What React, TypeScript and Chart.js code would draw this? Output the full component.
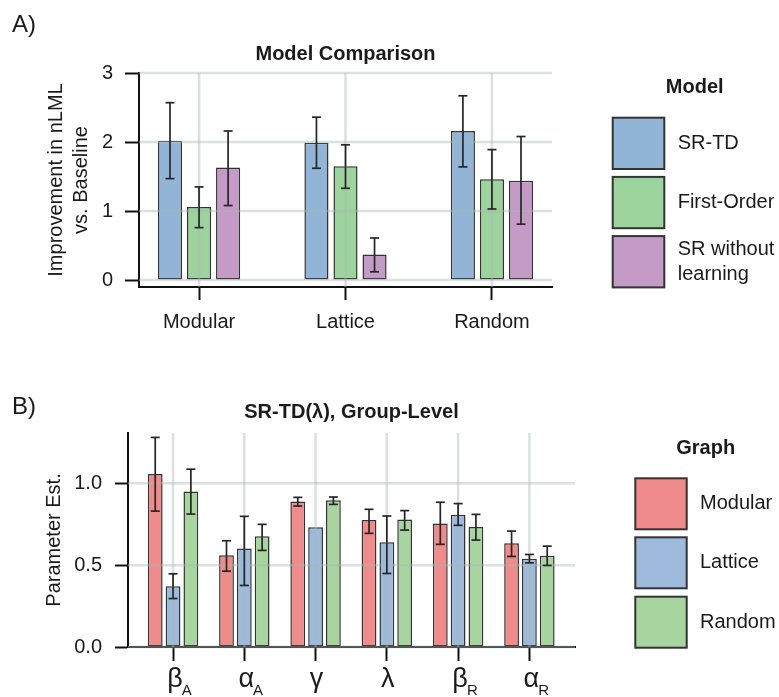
import React, { useEffect, useRef } from 'react';
import { Chart, registerables } from 'chart.js';

Chart.register(...registerables);

// ---------- Panel A data ----------
const modelCategories = ['Modular', 'Lattice', 'Random'];
const modelNames = ['SR-TD', 'First-Order', 'SR without learning'];
const modelLegendLines = [['SR-TD'], ['First-Order'], ['SR without', 'learning']];
const modelColors = ['#92b4d7', '#9dd39c', '#c49ac7'];
const srtdMean = [2.02, 1.99, 2.16];
const srtdLow = [1.47, 1.62, 1.64];
const srtdHigh = [2.57, 2.36, 2.67];
const firstOrderMean = [1.06, 1.65, 1.46];
const firstOrderLow = [0.76, 1.33, 1.03];
const firstOrderHigh = [1.35, 1.96, 1.89];
const srNoLearnMean = [1.63, 0.37, 1.44];
const srNoLearnLow = [1.08, 0.12, 0.81];
const srNoLearnHigh = [2.16, 0.61, 2.08];
const modelYTicks = [0, 1, 2, 3];

// ---------- Panel B data ----------
const paramSymbols = ['β', 'α', 'γ', 'λ', 'β', 'α'];
const paramSubscripts = ['A', 'A', '', '', 'R', 'R'];
const graphNames = ['Modular', 'Lattice', 'Random'];
const graphColors = ['#f08b8b', '#9dbadc', '#a8d4a0'];
const modularMean = [1.057, 0.561, 0.888, 0.776, 0.755, 0.633];
const modularLow = [0.83, 0.463, 0.861, 0.694, 0.627, 0.553];
const modularHigh = [1.28, 0.649, 0.914, 0.841, 0.884, 0.708];
const latticeMean = [0.371, 0.602, 0.731, 0.639, 0.808, 0.539];
const latticeLow = [0.296, 0.376, 0.731, 0.449, 0.743, 0.514];
const latticeHigh = [0.447, 0.798, 0.731, 0.8, 0.876, 0.565];
const randomMean = [0.949, 0.676, 0.896, 0.778, 0.733, 0.557];
const randomLow = [0.812, 0.59, 0.871, 0.714, 0.653, 0.498];
const randomHigh = [1.086, 0.749, 0.916, 0.833, 0.81, 0.616];
const paramYTicks = [0, 0.5, 1.0];

// ---------- style ----------
const FONT = '"Liberation Sans", Arial, Helvetica, sans-serif';
const TEXT = '#1a1a1a';
const AXIS = '#111111';
const GRID = 'rgba(168,184,178,0.42)';
const EDGE = '#333333';
const ERR = '#262626';

function txt(ctx: CanvasRenderingContext2D, s: string, x: number, y: number, font: string,
  align: CanvasTextAlign = 'left', baseline: CanvasTextBaseline = 'alphabetic', rotate = false) {
  ctx.save();
  ctx.translate(x, y);
  if (rotate) ctx.rotate(-Math.PI / 2);
  ctx.font = font;
  ctx.fillStyle = TEXT;
  ctx.textAlign = align;
  ctx.textBaseline = baseline;
  ctx.fillText(s, 0, 0);
  ctx.restore();
}

function line(ctx: CanvasRenderingContext2D, x1: number, y1: number, x2: number, y2: number) {
  ctx.beginPath();
  ctx.moveTo(x1, y1);
  ctx.lineTo(x2, y2);
  ctx.stroke();
}

function overlay(id: string, gridY: number[], nCat: number, lows: number[][], highs: number[][], capHalf: number) {
  return {
    id,
    afterDatasetsDraw(chart: any) {
      const ctx: CanvasRenderingContext2D = chart.ctx;
      const { left, right, top, bottom } = chart.chartArea;
      const xs = chart.scales.x;
      const ys = chart.scales.y;
      ctx.save();
      ctx.strokeStyle = GRID;
      ctx.lineWidth = 2.5;
      gridY.forEach((v) => {
        const y = ys.getPixelForValue(v);
        line(ctx, left, y, right, y);
      });
      for (let i = 0; i < nCat; i++) {
        const x = xs.getPixelForValue(i);
        line(ctx, x, top, x, bottom);
      }
      ctx.strokeStyle = ERR;
      ctx.lineWidth = 1.7;
      chart.data.datasets.forEach((_: any, di: number) => {
        const meta = chart.getDatasetMeta(di);
        meta.data.forEach((el: any, j: number) => {
          const lo = lows[di][j];
          const hi = highs[di][j];
          if (hi - lo < 1e-6) return;
          const x = el.x;
          const y1 = ys.getPixelForValue(lo);
          const y2 = ys.getPixelForValue(hi);
          line(ctx, x, y1, x, y2);
          line(ctx, x - capHalf, y1, x + capHalf, y1);
          line(ctx, x - capHalf, y2, x + capHalf, y2);
        });
      });
      ctx.restore();
    },
  };
}

function drawLegend(ctx: CanvasRenderingContext2D, title: string, titleX: number, titleY: number,
  boxX: number, boxW: number, boxTops: number[], boxH: number, colors: string[], labels: string[][], labelX: number) {
  txt(ctx, title, titleX, titleY, `bold 20px ${FONT}`, 'center');
  boxTops.forEach((t, i) => {
    ctx.save();
    ctx.fillStyle = colors[i];
    ctx.fillRect(boxX, t, boxW, boxH);
    ctx.strokeStyle = EDGE;
    ctx.lineWidth = 2;
    ctx.strokeRect(boxX, t, boxW, boxH);
    ctx.restore();
    const cy = t + boxH / 2;
    const lines = labels[i];
    const lh = 24.5;
    lines.forEach((s, k) => {
      txt(ctx, s, labelX, cy + (k - (lines.length - 1) / 2) * lh, `20px ${FONT}`, 'left', 'middle');
    });
  });
}

const tickFont = { family: FONT, size: 20 };

function makeA(canvas: HTMLCanvasElement) {
  const means = [srtdMean, firstOrderMean, srNoLearnMean];
  const lows = [srtdLow, firstOrderLow, srNoLearnLow];
  const highs = [srtdHigh, firstOrderHigh, srNoLearnHigh];
  return new Chart(canvas, {
    type: 'bar',
    data: {
      datasets: modelNames.map((name, di) => ({
        label: name,
        data: modelCategories.map((_, i) => ({ x: i, y: means[di][i] })),
        backgroundColor: modelColors[di],
        borderColor: EDGE,
        borderWidth: 1.5,
        borderSkipped: false,
        categoryPercentage: 0.595,
        barPercentage: 0.83,
      })),
    },
    options: {
      animation: false,
      responsive: false,
      events: [],
      layout: { padding: { left: 0, top: 73, right: 227, bottom: 0 } },
      plugins: { legend: { display: false }, title: { display: false }, tooltip: { enabled: false } },
      scales: {
        x: {
          type: 'linear', min: -0.41, max: 2.41, offset: false,
          afterBuildTicks: (s: any) => { s.ticks = modelCategories.map((_, i) => ({ value: i })); },
          afterFit: (s: any) => { s.height = 73; },
          ticks: {
            callback: (v: any) => modelCategories[v] ?? '',
            font: tickFont, color: TEXT, padding: 10, autoSkip: false, maxRotation: 0, minRotation: 0,
          },
          grid: { offset: false, drawOnChartArea: false, drawTicks: true, tickLength: 13, tickWidth: 2, tickColor: AXIS, color: AXIS },
          border: { display: true, color: AXIS, width: 2 },
        },
        y: {
          type: 'linear', min: -0.1, max: 3,
          afterBuildTicks: (s: any) => { s.ticks = modelYTicks.map((v) => ({ value: v })); },
          afterFit: (s: any) => { s.width = 139; },
          ticks: { callback: (v: any) => String(v), font: tickFont, color: TEXT, padding: 12 },
          grid: { drawOnChartArea: false, drawTicks: true, tickLength: 14, tickWidth: 2, tickColor: AXIS, color: AXIS },
          border: { display: true, color: AXIS, width: 2 },
        },
      },
    } as any,
    plugins: [
      overlay('errA', modelYTicks, modelCategories.length, lows, highs, 4.5),
      {
        id: 'textA',
        afterDraw(chart: any) {
          const ctx = chart.ctx;
          const { left, right, top, bottom } = chart.chartArea;
          txt(ctx, 'A)', 12, 32, `24px ${FONT}`);
          txt(ctx, 'Model Comparison', (left + right) / 2, 59.5, `bold 20px ${FONT}`, 'center');
          const cy = (top + bottom) / 2;
          txt(ctx, 'Improvement in nLML', 62, cy, `20px ${FONT}`, 'center', 'alphabetic', true);
          txt(ctx, 'vs. Baseline', 87, cy, `20px ${FONT}`, 'center', 'alphabetic', true);
          drawLegend(ctx, 'Model', 694.7, 93, 612.7, 51.6, [117.7, 176.9, 236.1], 51.3, modelColors, modelLegendLines, 677.7);
        },
      },
    ],
  });
}

function makeB(canvas: HTMLCanvasElement) {
  const means = [modularMean, latticeMean, randomMean];
  const lows = [modularLow, latticeLow, randomLow];
  const highs = [modularHigh, latticeHigh, randomHigh];
  return new Chart(canvas, {
    type: 'bar',
    data: {
      datasets: graphNames.map((name, di) => ({
        label: name,
        data: paramSymbols.map((_, i) => ({ x: i, y: means[di][i] })),
        backgroundColor: graphColors[di],
        borderColor: EDGE,
        borderWidth: 1.5,
        borderSkipped: false,
        categoryPercentage: 0.75,
        barPercentage: 0.83,
      })),
    },
    options: {
      animation: false,
      responsive: false,
      events: [],
      layout: { padding: { left: 0, top: 73, right: 204, bottom: 0 } },
      plugins: { legend: { display: false }, title: { display: false }, tooltip: { enabled: false } },
      scales: {
        x: {
          type: 'linear', min: -0.632, max: 5.64, offset: false,
          afterBuildTicks: (s: any) => { s.ticks = paramSymbols.map((_, i) => ({ value: i })); },
          afterFit: (s: any) => { s.height = 50; },
          ticks: { callback: () => '', font: tickFont, color: TEXT, autoSkip: false, maxRotation: 0, minRotation: 0 },
          grid: { offset: false, drawOnChartArea: false, drawTicks: true, tickLength: 14, tickWidth: 2, tickColor: AXIS, color: AXIS },
          border: { display: true, color: AXIS, width: 2 },
        },
        y: {
          type: 'linear', min: 0, max: 1.307,
          afterBuildTicks: (s: any) => { s.ticks = paramYTicks.map((v) => ({ value: v })); },
          afterFit: (s: any) => { s.width = 128; },
          ticks: { callback: (v: any) => Number(v).toFixed(1), font: tickFont, color: TEXT, padding: 13 },
          grid: { drawOnChartArea: false, drawTicks: true, tickLength: 13, tickWidth: 2, tickColor: AXIS, color: AXIS },
          border: { display: true, color: AXIS, width: 2 },
        },
      },
    } as any,
    plugins: [
      overlay('errB', paramYTicks, paramSymbols.length, lows, highs, 4.5),
      {
        id: 'textB',
        afterDraw(chart: any) {
          const ctx: CanvasRenderingContext2D = chart.ctx;
          const { left, right, top, bottom } = chart.chartArea;
          const xs = chart.scales.x;
          txt(ctx, 'B)', 12, 54, `24px ${FONT}`);
          txt(ctx, 'SR-TD(λ), Group-Level', (left + right) / 2, 58, `bold 20px ${FONT}`, 'center');
          txt(ctx, 'Parameter Est.', 60, (top + bottom) / 2, `20px ${FONT}`, 'center', 'alphabetic', true);
          paramSymbols.forEach((sym, i) => {
            const x = xs.getPixelForValue(i);
            const sub = paramSubscripts[i];
            const mainFont = `27px ${FONT}`;
            ctx.save();
            ctx.font = mainFont;
            const w = ctx.measureText(sym).width;
            ctx.restore();
            const cx = x + (sub ? 2 : 1);
            txt(ctx, sym, cx - w / 2, 327, mainFont, 'left');
            if (sub) txt(ctx, sub, cx + w / 2 - 1, 335, `15px ${FONT}`, 'left');
          });
          drawLegend(ctx, 'Graph', 705.7, 94, 635.3, 51.4, [118.3, 177.3, 236.7], 51, graphColors,
            graphNames.map((n) => [n]), 700);
        },
      },
    ],
  });
}

export default function App() {
  const refA = useRef<HTMLCanvasElement>(null);
  const refB = useRef<HTMLCanvasElement>(null);
  useEffect(() => {
    const a = makeA(refA.current as HTMLCanvasElement);
    const b = makeB(refB.current as HTMLCanvasElement);
    return () => {
      a.destroy();
      b.destroy();
    };
  }, []);
  return (
    <div style={{ position: 'fixed', left: 0, top: 0, width: 779, height: 697, background: '#ffffff' }}>
      <canvas ref={refA} width={779} height={360} style={{ position: 'absolute', left: 0, top: 0 }} />
      <canvas ref={refB} width={779} height={337} style={{ position: 'absolute', left: 0, top: 360 }} />
    </div>
  );
}
